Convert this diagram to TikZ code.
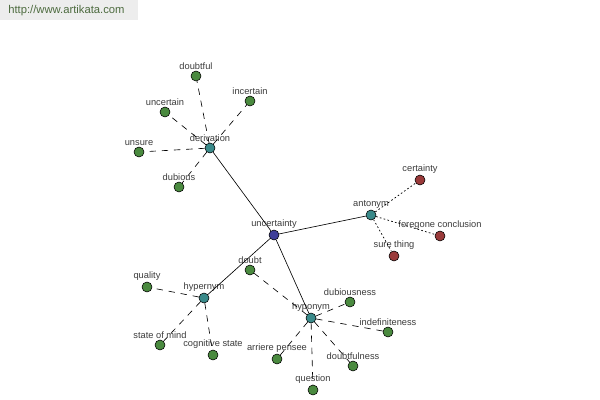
\documentclass[tikz,border=0pt]{standalone}
\usepackage{fontspec}
\setmainfont{Liberation Sans}
\usetikzlibrary{calc,positioning}
\definecolor{wgreen}{HTML}{4A8A3F}
\definecolor{wteal}{HTML}{3A8A8A}
\definecolor{wnavy}{HTML}{3F3F99}
\definecolor{wred}{HTML}{9A3A3A}
\definecolor{wtext}{HTML}{3C3C3C}
\definecolor{wlink}{HTML}{4D6B3F}
\begin{document}
\begin{tikzpicture}[x=0.025cm,y=-0.025cm]
     \tikzstyle{every node}=[circle,draw,line width=0.4pt,inner sep=0pt,minimum size=10*0.025cm]
     \tikzstyle{every label}=[draw=none,rectangle,inner sep=0.5pt,minimum size=0pt,text=wtext,font=\fontsize{6.6}{7}\selectfont,label distance=0.4pt]
     \tikzstyle{word}=[fill=wgreen]
     \tikzstyle{rel}=[fill=wteal]
     \tikzstyle{anti}=[fill=wred]
     \tikzstyle{link}=[line width=0.45pt]
     \tikzstyle{dashlink}=[line width=0.45pt,dash pattern=on 4.5pt off 4.2pt]
     \tikzstyle{dotlink}=[line width=0.5pt,dash pattern=on 1.2pt off 1.6pt]

     \useasboundingbox[fill=white] (0,0) rectangle (600,400);
     \fill[black!7] (0,0) rectangle (138,20);
     \node at (8,11)[draw=none,rectangle,minimum size=0pt,anchor=west,text=wlink,font=\fontsize{8}{9}\selectfont](site){http://www.artikata.com};

     % centre and relations
     \node at (274,235)[fill=wnavy,label={[name=uncertainty-l]above:uncertainty}](uncertainty){};
     \node at (210,148)[rel,label={[name=derivation-l]above:derivation}](derivation){};
     \node at (371,215)[rel,label={[name=antonym-l]above:antonym}](antonym){};
     \node at (204,298)[rel,label={[name=hypernym-l]above:hypernym}](hypernym){};
     \node at (311,318)[rel,label={[name=hyponym-l]above:hyponym}](hyponym){};

     % derivation
     \node at (196,76)[word,label={[name=doubtful-l]above:doubtful}](doubtful){};
     \node at (250,101)[word,label={[name=incertain-l]above:incertain}](incertain){};
     \node at (165,112)[word,label={[name=uncertain-l]above:uncertain}](uncertain){};
     \node at (139,152)[word,label={[name=unsure-l]above:unsure}](unsure){};
     \node at (179,187)[word,label={[name=dubious-l]above:dubious}](dubious){};

     % antonym
     \node at (420,180)[anti,label={[name=certainty-l]above:certainty}](certainty){};
     \node at (440,236)[anti,label={[name=foregone-l]above:foregone conclusion}](foregone){};
     \node at (394,256)[anti,label={[name=surething-l]above:sure thing}](surething){};

     % hypernym
     \node at (147,287)[word,label={[name=quality-l]above:quality}](quality){};
     \node at (160,345)[word,label={[name=stateofmind-l]above:state of mind}](stateofmind){};
     \node at (213,355)[word,label={[name=cognitive-l]above:cognitive state}](cognitive){};

     % hyponym
     \node at (250,270)[word,label={[name=doubt-l]above:doubt}](doubt){};
     \node at (350,302)[word,label={[name=dubiousness-l]above:dubiousness}](dubiousness){};
     \node at (388,332)[word,label={[name=indefiniteness-l]above:indefiniteness}](indefiniteness){};
     \node at (277,359)[word,label={[name=arriere-l]above:arriere pensee}](arriere){};
     \node at (353,366)[word,label={[name=doubtfulness-l]above:doubtfulness}](doubtfulness){};
     \node at (313,390)[word,label={[name=question-l]above:question}](question){};

     \path[link](uncertainty)edge(derivation)edge(antonym)edge(hypernym)edge(hyponym);
     \path[dashlink](derivation)edge(doubtful)edge(incertain)edge(uncertain)edge(unsure)edge(dubious);
     \path[dotlink](antonym)edge(certainty)edge(foregone)edge(surething);
     \path[dashlink](hypernym)edge(quality)edge(stateofmind)edge(cognitive);
     \path[dashlink](hyponym)edge(doubt)edge(dubiousness)edge(indefiniteness)edge(arriere)edge(doubtfulness)edge(question);

\end{tikzpicture}
\end{document}
